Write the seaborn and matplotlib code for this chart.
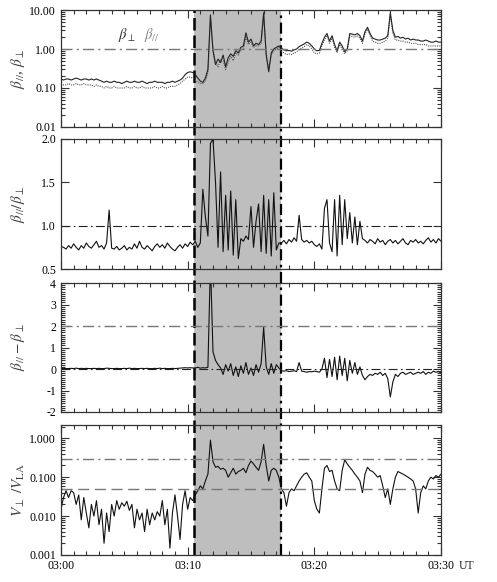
import numpy as np
import matplotlib
matplotlib.use('Agg')
import matplotlib.pyplot as plt
import matplotlib.ticker as mticker
import seaborn as sns

# sampling step of all series (minutes after 03:00)
step_min = 0.2

# event interval (minutes after 03:00)
event_start = 10.52
event_end = 17.37

beta_perp = [
    0.17, 0.16, 0.17, 0.17, 0.16, 0.17, 0.18, 0.17, 0.16, 0.17, 0.17, 0.16, 0.17, 0.16, 0.17, 0.16,
    0.15, 0.14, 0.15, 0.14, 0.14, 0.15, 0.14, 0.14, 0.13, 0.14, 0.15, 0.14, 0.14, 0.15, 0.14, 0.14,
    0.15, 0.14, 0.13, 0.14, 0.14, 0.15, 0.14, 0.14, 0.14, 0.13, 0.14, 0.14, 0.15, 0.14, 0.15, 0.16,
    0.18, 0.22, 0.25, 0.26, 0.25,
    0.22, 0.18, 0.15, 0.14, 0.18, 0.30,
    7.5,
    0.9, 0.40, 0.55, 0.45, 0.70,
    0.35, 0.60, 0.75, 0.65, 0.90, 0.80, 1.1, 1.2,
    2.6, 1.5, 1.8, 1.2, 1.4, 1.3, 1.6,
    8.5,
    0.7, 0.26, 0.8, 1.0, 1.1, 1.2,
    1.05, 0.95, 0.90, 0.92, 0.88, 0.95, 1.00, 1.15, 1.25, 1.35,
    1.5, 1.4, 1.2, 1.0, 0.9, 0.92,
    1.4, 2.0, 2.5, 1.6, 2.2, 1.3, 0.9,
    1.5, 1.2, 0.85, 1.0,
    2.5, 2.4, 2.3, 2.5, 2.2, 1.6,
    2.8, 3.6, 2.5, 1.9,
    1.8, 1.7, 1.7, 1.8, 1.9, 2.2,
    8.5, 3.0, 2.0,
    2.1, 1.9, 2.0, 1.8, 1.9, 1.7, 1.8, 1.7,
    1.7, 1.6, 1.6, 1.7, 1.6, 1.5, 1.5, 1.6, 1.5, 1.5,
]

beta_par = [
    0.13, 0.12, 0.12, 0.13, 0.12, 0.12, 0.13, 0.12, 0.12, 0.13, 0.12, 0.12, 0.12, 0.11, 0.12, 0.11,
    0.11, 0.10, 0.11, 0.10, 0.10, 0.11, 0.10, 0.10, 0.10, 0.10, 0.11, 0.10, 0.10, 0.11, 0.10, 0.10,
    0.11, 0.10, 0.10, 0.10, 0.10, 0.11, 0.10, 0.10, 0.11, 0.10, 0.10, 0.11, 0.11, 0.11, 0.12, 0.13,
    0.15, 0.17, 0.19, 0.19, 0.18,
    0.16, 0.14, 0.13, 0.13, 0.15, 0.25,
    6.0,
    1.0, 0.45, 0.35, 0.55, 0.50,
    0.30, 0.45, 0.65, 0.50, 0.80, 0.70, 0.95, 1.0,
    2.0, 1.3, 1.5, 1.1, 1.2, 1.2, 1.4,
    7.0,
    0.8, 0.30, 0.7, 0.9, 1.0, 1.1,
    0.85, 0.80, 0.72, 0.75, 0.72, 0.78, 0.85, 0.95, 1.05, 1.15,
    1.3, 1.2, 1.0, 0.8, 0.75, 0.78,
    1.2, 1.7, 2.2, 1.4, 1.9, 1.1, 0.8,
    1.3, 1.0, 0.75, 0.9,
    2.2, 2.1, 2.0, 2.2, 1.9, 1.4,
    2.4, 3.2, 2.2, 1.6,
    1.5, 1.4, 1.4, 1.5, 1.6, 1.9,
    7.5, 2.5, 1.7,
    1.7, 1.6, 1.6, 1.5, 1.5, 1.4, 1.4, 1.4,
    1.3, 1.3, 1.3, 1.3, 1.2, 1.2, 1.2, 1.2, 1.2, 1.2,
]

beta_ratio = [
    0.76, 0.75, 0.73, 0.77, 0.74, 0.79, 0.75, 0.72, 0.77, 0.74, 0.80, 0.76, 0.74, 0.78, 0.82, 0.75,
    0.77, 0.73, 0.80, 1.18, 0.74, 0.73, 0.76, 0.72,
    0.74, 0.77, 0.72, 0.75, 0.73, 0.79, 0.74, 0.82, 0.75, 0.73, 0.77, 0.74,
    0.71, 0.76, 0.79, 0.75, 0.78, 0.74, 0.80, 0.76, 0.73, 0.71, 0.75, 0.78,
    0.74, 0.79, 0.76, 0.81, 0.78, 0.82,
    0.75, 0.80,
    1.42, 1.10, 0.88, 1.95, 2.0, 1.50,
    0.75, 1.62, 0.70, 1.35, 0.72, 1.40, 0.66, 1.30, 0.62,
    0.85, 0.82, 0.88, 0.84,
    1.22, 0.75, 1.05, 1.25, 0.70, 1.35, 0.68, 1.30, 0.65, 1.38, 0.72, 0.80,
    0.80, 0.83, 0.79, 0.84, 0.81, 0.86, 0.82, 1.12, 0.84, 0.81,
    0.83, 0.80, 0.82, 0.78, 0.76, 0.79,
    0.73, 1.20, 1.30, 0.80, 0.70, 1.30, 0.65, 1.35, 0.78, 1.30, 0.85, 1.15, 0.80, 1.10, 0.78, 1.05,
    0.85, 0.83, 0.80, 0.84, 0.82, 0.79, 0.85, 0.81, 0.83, 0.78, 0.82, 0.84, 0.80, 0.83, 0.79, 0.82,
    0.85, 0.80, 0.78, 0.83, 0.81, 0.84, 0.80, 0.82, 0.79, 0.83, 0.86, 0.81, 0.84, 0.80, 0.85, 0.82,
]

beta_diff = [
    0.02, 0.03, 0.02, 0.02, 0.03, 0.02, 0.04, 0.02, 0.03, 0.02,
    0.03, 0.02, 0.02, 0.03, 0.02, 0.03, 0.02, 0.02, 0.04, 0.03,
    0.02, 0.02, 0.03, 0.02, 0.02, 0.03, 0.02, 0.04, 0.02, 0.03,
    0.02, 0.02, 0.03, 0.02, 0.03, 0.02, 0.02, 0.03, 0.02, 0.04,
    0.02, 0.03, 0.02, 0.02, 0.03, 0.02, 0.03, 0.04, 0.05, 0.06,
    0.05, 0.06, 0.05,
    0.05, 0.08, 0.04, 0.06, 0.05, 0.08,
    5.0,
    0.8, 0.4, 0.2,
    0.05, -0.25, 0.20, -0.10, 0.25, -0.30, 0.10, -0.35, 0.15, -0.20, 0.30, -0.25, 0.05, -0.30, 0.20, -0.15, 0.25,
    1.95,
    0.10, -0.25, 0.25, -0.20, 0.20, 0.05,
    -0.08, -0.10, -0.08, -0.12, -0.10, -0.08, -0.12, 0.30, -0.10, -0.12, -0.15, -0.12, -0.13, -0.10, -0.12, -0.15,
    0.0, 0.50, -0.40, 0.45, -0.35, 0.55, -0.50, 0.60, -0.30, 0.50, -0.55, 0.40, -0.20, 0.30, -0.25, 0.10,
    -0.30, -0.50, -0.35, -0.25, -0.30, -0.20, -0.25, -0.15, -0.30, -0.20,
    -0.45, -1.30, -0.60, -0.25, -0.35, -0.20, -0.15, -0.25, -0.20, -0.15,
    -0.25, -0.20, -0.15, -0.20, -0.12, -0.25, -0.15, -0.20, -0.10, -0.15,
    -0.12, -0.18,
]

v_ratio = [
    0.015, 0.030, 0.045, 0.030, 0.045, 0.040, 0.020, 0.035, 0.008, 0.030,
    0.012, 0.005, 0.020, 0.010, 0.025, 0.006, 0.015, 0.002, 0.012, 0.004,
    0.020, 0.010, 0.025, 0.015, 0.022, 0.018, 0.024, 0.014, 0.020, 0.005,
    0.015, 0.008, 0.012, 0.004, 0.015, 0.006, 0.012, 0.008, 0.013, 0.010,
    0.025, 0.006, 0.015, 0.0015, 0.012, 0.035, 0.010, 0.0025, 0.020, 0.045,
    0.015, 0.030, 0.025,
    0.035, 0.045, 0.06, 0.05, 0.08, 0.12,
    0.9,
    0.25, 0.18, 0.19, 0.16, 0.17, 0.15, 0.10, 0.13, 0.17,
    0.12, 0.14, 0.15, 0.17, 0.13, 0.20, 0.26, 0.22, 0.18, 0.15, 0.25,
    0.7,
    0.20, 0.08, 0.15, 0.17, 0.15, 0.10,
    0.05, 0.04, 0.018, 0.04, 0.05, 0.045, 0.06, 0.08, 0.10, 0.12,
    0.13, 0.10, 0.08, 0.025, 0.015, 0.012,
    0.05, 0.17, 0.20, 0.14, 0.15, 0.08, 0.05, 0.045,
    0.15, 0.28, 0.22, 0.18, 0.15, 0.12, 0.10, 0.08, 0.04,
    0.12, 0.18, 0.15, 0.14, 0.12, 0.10, 0.11, 0.06, 0.03, 0.05,
    0.02, 0.05, 0.10, 0.14, 0.13, 0.12, 0.11, 0.10, 0.09, 0.08, 0.05,
    0.012, 0.04, 0.06, 0.05, 0.08, 0.10, 0.09, 0.11, 0.10, 0.12,
]

time_ticks = [0, 10, 20, 30]
time_labels = ['03:00', '03:10', '03:20', '03:30']


def minutes_of(series):
    return np.arange(len(series)) * step_min


sns.set_style('ticks')
plt.rcParams['font.family'] = ['Liberation Serif', 'DejaVu Serif']
plt.rcParams['mathtext.fontset'] = 'stix'
plt.rcParams['axes.unicode_minus'] = False
plt.rcParams['font.size'] = 8.5

fig = plt.figure(figsize=(4.97, 5.82), dpi=100)

left, width = 0.1227, 0.7646
boxes = [
    (0.7818, 0.2010),
    (0.5378, 0.2234),
    (0.2921, 0.2216),
    (0.0464, 0.2234),
]

# shaded event interval spanning all panels
bg = fig.add_axes([left, boxes[3][0], width, boxes[0][0] + boxes[0][1] - boxes[3][0]], zorder=0)
bg.set_xlim(0, 30)
bg.set_ylim(0, 1)
bg.axis('off')
bg.axvspan(event_start, event_end, color='#bebebe', lw=0)
bg.axvline(event_start, color='black', lw=1.8, ls=(0, (5, 2)))
bg.axvline(event_end, color='black', lw=1.6, ls=(0, (5, 2, 1.2, 2)))

axes = []
for b, h in boxes:
    ax = fig.add_axes([left, b, width, h], zorder=1)
    ax.set_facecolor('none')
    axes.append(ax)

ax1, ax2, ax3, ax4 = axes

# panel 1
sns.lineplot(x=minutes_of(beta_par), y=beta_par, ax=ax1, color='#555555', lw=0.8, ls=(0, (1, 1)))
sns.lineplot(x=minutes_of(beta_perp), y=beta_perp, ax=ax1, color='#222222', lw=0.8)
ax1.set_yscale('log')
ax1.set_ylim(0.01, 10)
ax1.axhline(1.0, color='#777777', lw=1.0, ls=(0, (8, 3, 1.5, 3)))
ax1.yaxis.set_major_formatter(mticker.FuncFormatter(lambda v, p: f'{v:.2f}'))
ax1.set_ylabel(r'$\beta_{//}$, $\beta_{\perp}$', fontsize=11, color='#404040')
ax1.text(0.174, 0.79, r'$\beta_{\perp}$', transform=ax1.transAxes, ha='center', va='center',
         fontsize=10.5, color='#333333')
ax1.text(0.24, 0.79, r'$\beta_{//}$', transform=ax1.transAxes, ha='center', va='center',
         fontsize=10.5, color='#888888')

# panel 2
sns.lineplot(x=minutes_of(beta_ratio), y=beta_ratio, ax=ax2, color='#111111', lw=0.8)
ax2.set_ylim(0.5, 2.0)
ax2.set_yticks([0.5, 1.0, 1.5, 2.0])
ax2.yaxis.set_major_formatter(mticker.FormatStrFormatter('%.1f'))
ax2.axhline(1.0, color='#222222', lw=0.8, ls=(0, (8, 3, 1.5, 3)))
ax2.set_ylabel(r'$\beta_{//}/\beta_{\perp}$', fontsize=11, color='#404040')

# panel 3
sns.lineplot(x=minutes_of(beta_diff), y=beta_diff, ax=ax3, color='#111111', lw=0.8)
ax3.set_ylim(-2, 4)
ax3.set_yticks([-2, -1, 0, 1, 2, 3, 4])
ax3.yaxis.set_minor_locator(mticker.MultipleLocator(0.1))
ax3.yaxis.set_major_formatter(mticker.FormatStrFormatter('%d'))
ax3.axhline(2.0, color='#777777', lw=1.0, ls=(0, (8, 3, 1.5, 3)))
ax3.axhline(0.0, color='#222222', lw=0.8, ls=(0, (8, 3, 1.5, 3)))
ax3.set_ylabel(r'$\beta_{//}-\beta_{\perp}$', fontsize=11, color='#404040')

# panel 4
sns.lineplot(x=minutes_of(v_ratio), y=v_ratio, ax=ax4, color='#111111', lw=0.8)
ax4.set_yscale('log')
ax4.set_ylim(0.001, 2.2)
ax4.yaxis.set_major_formatter(mticker.FuncFormatter(lambda v, p: f'{v:.3f}'))
ax4.axhline(0.3, color='#777777', lw=1.0, ls=(0, (8, 3, 1.5, 3)))
ax4.axhline(0.05, color='#777777', lw=1.0, ls=(0, (8, 4)))
ax4.set_ylabel(r'$V_{\perp}\ /V_{\rm LA}$', fontsize=11, color='#404040')

for ax in axes:
    ax.set_xlim(0, 30)
    ax.set_xticks(time_ticks)
    ax.xaxis.set_minor_locator(mticker.MultipleLocator(1))
    ax.tick_params(which='both', direction='in', top=True, right=True, width=0.8, colors='#333333',
                   labelcolor='black')
    ax.tick_params(which='major', length=6)
    ax.tick_params(which='minor', length=3)
    for s in ax.spines.values():
        s.set_linewidth(0.9)
        s.set_color('#333333')
    ax.yaxis.set_label_coords(-0.09, 0.5)
    ax.set_xlabel('')
    if ax is not ax4:
        ax.set_xticklabels([])

ax2.tick_params(which='minor', left=False, right=False)
ax4.set_xticklabels(time_labels)
ax4.annotate('UT', xy=(30, 0), xycoords=('data', 'axes fraction'), xytext=(18, -5),
             textcoords='offset pixels', ha='left', va='top', fontsize=8.5)

fig.savefig('out.png', dpi=100)
